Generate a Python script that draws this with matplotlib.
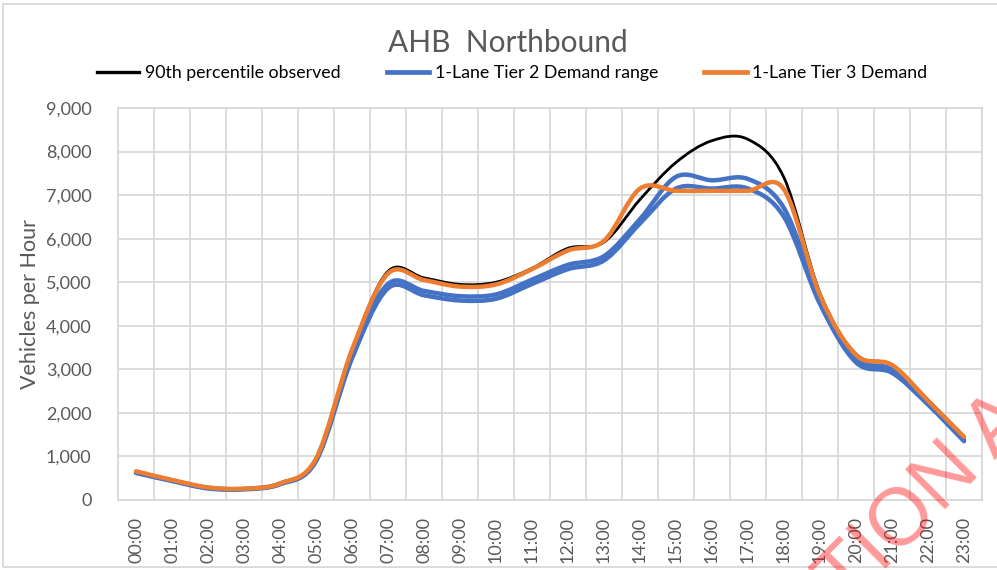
import matplotlib
matplotlib.use('Agg')
import matplotlib.pyplot as plt
from matplotlib.path import Path
from matplotlib.patches import PathPatch, Rectangle
from matplotlib.lines import Line2D
from matplotlib.ticker import FuncFormatter

plt.rcParams['font.family'] = ['Lato', 'DejaVu Sans']

# Data
hours = ['00:00', '01:00', '02:00', '03:00', '04:00', '05:00', '06:00', '07:00',
         '08:00', '09:00', '10:00', '11:00', '12:00', '13:00', '14:00', '15:00',
         '16:00', '17:00', '18:00', '19:00', '20:00', '21:00', '22:00', '23:00']

observed_90th = [650, 460, 290, 260, 390, 950, 3450, 5250, 5100, 4950, 5000, 5320,
                 5780, 5920, 6900, 7750, 8250, 8280, 7400, 4750, 3350, 3100, 2300, 1450]

tier2_high = [640, 450, 280, 255, 375, 920, 3380, 4960, 4800, 4680, 4720, 5060,
              5400, 5600, 6450, 7420, 7340, 7370, 6700, 4620, 3250, 3000, 2250, 1390]

tier2_low = [620, 435, 265, 245, 360, 890, 3250, 4860, 4700, 4580, 4620, 4960,
             5300, 5500, 6350, 7150, 7150, 7150, 6500, 4500, 3160, 2920, 2190, 1350]

tier3 = [660, 460, 290, 260, 380, 950, 3450, 5200, 5050, 4900, 4950, 5300,
         5730, 5950, 7150, 7100, 7100, 7100, 7130, 4700, 3330, 3100, 2280, 1450]

BLACK = '#000000'
BLUE = '#4472C4'
ORANGE = '#ED7D31'
GREY_TEXT = '#595959'
GRID = '#D9D9D9'


# Smoothed line like Excel: bezier segments through the data points
def smooth_path(values):
    n = len(values)
    pts = [(i, v) for i, v in enumerate(values)]
    verts = [pts[0]]
    codes = [Path.MOVETO]
    for i in range(n - 1):
        p0 = pts[i - 1] if i > 0 else pts[i]
        p1 = pts[i]
        p2 = pts[i + 1]
        p3 = pts[i + 2] if i + 2 < n else pts[i + 1]
        c1 = (p1[0] + (p2[0] - p0[0]) / 6, p1[1] + (p2[1] - p0[1]) / 6)
        c2 = (p2[0] - (p3[0] - p1[0]) / 6, p2[1] - (p3[1] - p1[1]) / 6)
        verts += [c1, c2, p2]
        codes += [Path.CURVE4] * 3
    return Path(verts, codes)


fig = plt.figure(figsize=(9.97, 5.70), dpi=100)
ax = fig.add_axes([118 / 997, 1 - 500 / 570, 864 / 997, 392 / 570])

# Series, drawn in Excel order
series = [(observed_90th, BLACK, 2.0),
          (tier2_low, BLUE, 3.2),
          (tier2_high, BLUE, 3.2),
          (tier3, ORANGE, 3.2)]
for values, color, lw in series:
    patch = PathPatch(smooth_path(values), fill=False, edgecolor=color, linewidth=lw,
                      capstyle='round', joinstyle='round', zorder=3)
    ax.add_patch(patch)

ax.set_xlim(-0.5, len(hours) - 0.5)
ax.set_ylim(0, 9000)

# Gridlines between categories
ax.set_xticks(range(len(hours)))
ax.set_xticklabels(hours, rotation=90, fontsize=13, color=GREY_TEXT)
ax.set_xticks([i - 0.5 for i in range(len(hours) + 1)], minor=True)
ax.set_yticks(range(0, 9001, 1000))
ax.yaxis.set_major_formatter(FuncFormatter(lambda v, p: f'{v:,.0f}'))
ax.tick_params(axis='y', labelsize=13, labelcolor=GREY_TEXT, length=0, pad=19)
ax.tick_params(axis='x', which='both', length=0, pad=12)
ax.grid(True, axis='x', which='minor', color=GRID, linewidth=1.3)
ax.grid(True, axis='y', which='major', color=GRID, linewidth=1.3)
ax.set_axisbelow(True)
for s in ax.spines.values():
    s.set_color(GRID)
    s.set_linewidth(1.3)

ax.set_ylabel('Vehicles per Hour', fontsize=15.5, color=GREY_TEXT, labelpad=4)

fig.text(508 / 997, 1 - 43 / 570, 'AHB  Northbound', fontsize=21.5, color=GREY_TEXT,
         ha='center', va='center')

handles = [Line2D([], [], color=BLACK, linewidth=2.4),
           Line2D([], [], color=BLUE, linewidth=3.4),
           Line2D([], [], color=ORANGE, linewidth=3.4)]
labels = ['90th percentile observed', '1-Lane Tier 2 Demand range', '1-Lane Tier 3 Demand']
fig.legend(handles, labels, loc='center', bbox_to_anchor=(512 / 997, 1 - 73 / 570),
           ncol=3, frameon=False, fontsize=12.8, handlelength=2.4, handletextpad=0.3,
           columnspacing=2.6, labelcolor=BLACK)

# Chart area border
fig.add_artist(Rectangle((3 / 997, 3 / 570), 1.05, 1 - 7 / 570, transform=fig.transFigure,
                         fill=False, edgecolor=GRID, linewidth=1.3))

# Watermark fragment
fig.text(925 / 997, 1 - 500 / 570, 'TION A', fontsize=58, color='red', alpha=0.4,
         rotation=45, ha='center', va='center', rotation_mode='anchor',
         family=['Liberation Sans', 'DejaVu Sans'])

fig.savefig('out.png', dpi=100)
